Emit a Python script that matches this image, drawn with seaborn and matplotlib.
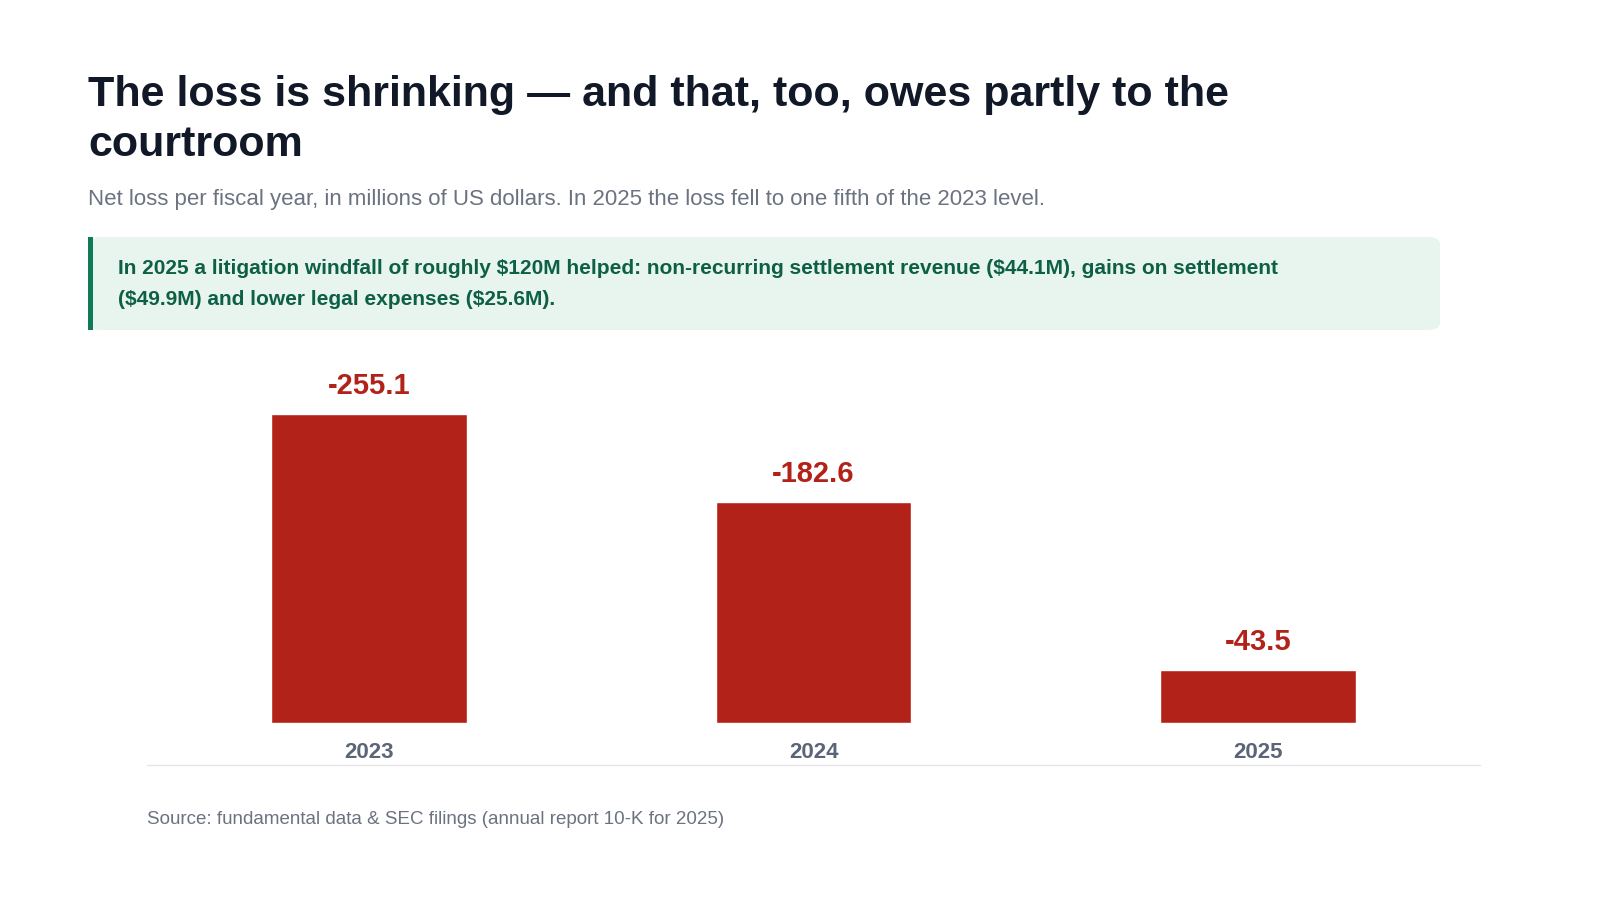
import numpy as np
import pandas as pd
import matplotlib.pyplot as plt
import seaborn as sns
from matplotlib.patches import FancyBboxPatch, Rectangle
from matplotlib.lines import Line2D

years = ['2023', '2024', '2025']
net_loss = [-255.1, -182.6, -43.5]

RED = '#b22218'
GRAY = '#5b6478'
DARK = '#111827'

sns.set_theme(style='white')
plt.rcParams['font.family'] = ['Liberation Sans', 'DejaVu Sans']

df = pd.DataFrame({'year': years, 'loss': net_loss})
df['height'] = -df['loss']

fig = plt.figure(figsize=(16, 9), dpi=100)
ax = fig.add_axes([147/1600, 1-723/900, 1333/1600, 363/900])
sns.barplot(data=df, x='year', y='height', color=RED, width=0.44,
            saturation=1, ax=ax)
ax.set_xlim(-0.5, 2.5)
ax.set_ylim(0, 300)
for p, v in zip(ax.patches, df['loss']):
    ax.text(p.get_x() + p.get_width()/2, p.get_height() + 12, f'{v:.1f}',
            ha='center', va='bottom', color=RED, fontsize=21, fontweight='bold')
sns.despine(ax=ax, left=True, bottom=True)
ax.set_yticks([])
ax.set_xlabel(''); ax.set_ylabel('')
ax.tick_params(axis='x', length=0, pad=14, labelsize=16, labelcolor=GRAY)
for t in ax.get_xticklabels():
    t.set_fontweight('bold')

fig.add_artist(Line2D([147/1600, 1480/1600], [1-765/900]*2, color='#e3e5e8', lw=1))

fig.text(88/1600, 1-95/900, 'The loss is shrinking — and that, too, owes partly to the',
         fontsize=31, fontweight='bold', color=DARK, va='center')
fig.text(88/1600, 1-145/900, 'courtroom',
         fontsize=31, fontweight='bold', color=DARK, va='center')
fig.text(88/1600, 1-199/900,
         'Net loss per fiscal year, in millions of US dollars. In 2025 the loss fell to one fifth of the 2023 level.',
         fontsize=16, color='#6b7280', va='center')

box = FancyBboxPatch((88/1600, 1-330/900), (1440-88)/1600, 93/900,
                     boxstyle='round,pad=0,rounding_size=0.008',
                     transform=fig.transFigure, facecolor='#e8f4ee', edgecolor='none')
fig.add_artist(box)
fig.add_artist(Rectangle((88/1600, 1-330/900), 5/1600, 93/900,
                         transform=fig.transFigure, facecolor='#0f7a5a', edgecolor='none'))
fig.text(118/1600, 1-269/900,
         r'In 2025 a litigation windfall of roughly \$120M helped: non-recurring settlement revenue (\$44.1M), gains on settlement',
         fontsize=15, fontweight='bold', color='#0d5f45', va='center')
fig.text(118/1600, 1-300/900,
         r'(\$49.9M) and lower legal expenses (\$25.6M).',
         fontsize=15, fontweight='bold', color='#0d5f45', va='center')

fig.text(147/1600, 1-820/900, 'Source: fundamental data & SEC filings (annual report 10-K for 2025)',
         fontsize=13.5, color='#6b7280', va='center')

fig.savefig('out.png', dpi=100)
